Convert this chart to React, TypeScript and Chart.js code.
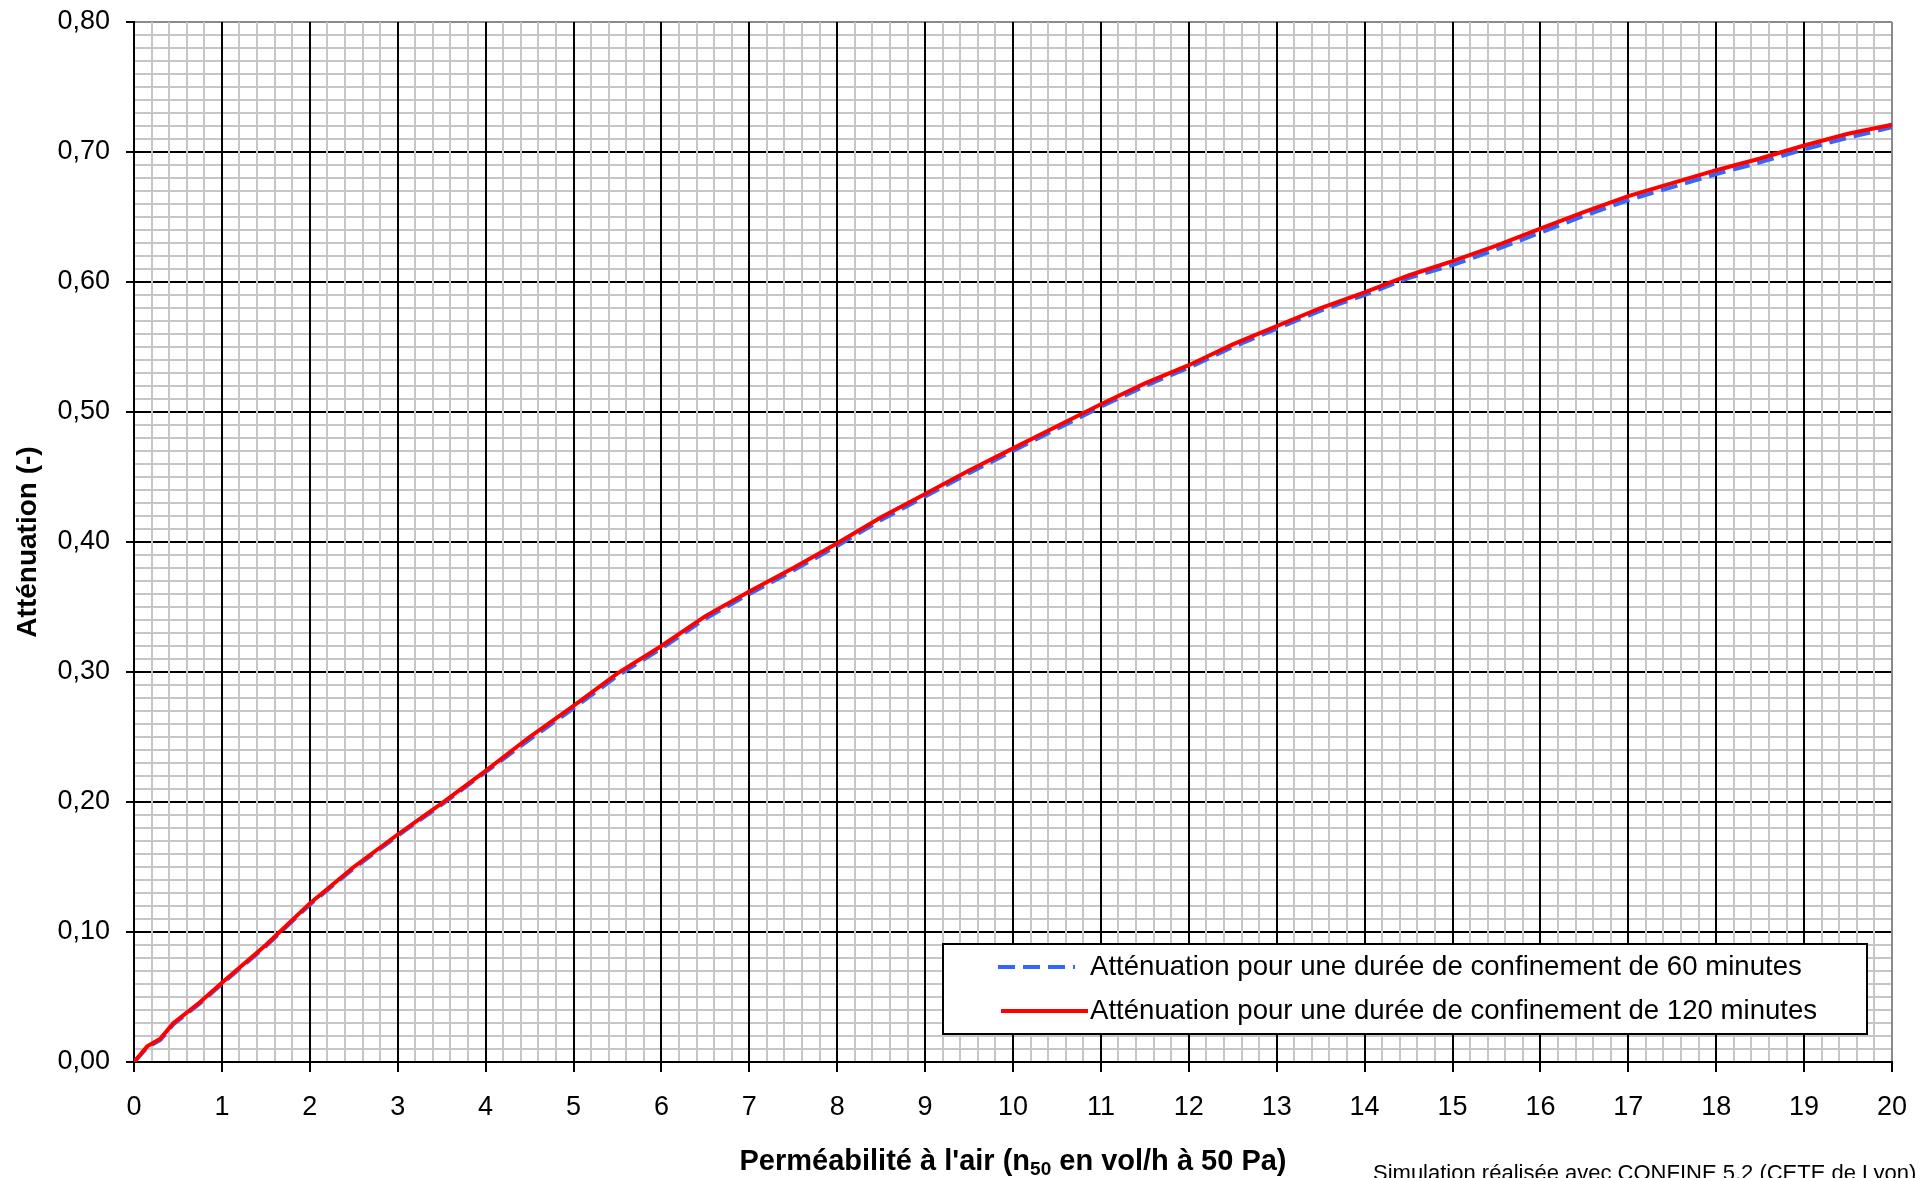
import React, { useEffect, useRef } from 'react';
import { Chart, registerables } from 'chart.js';

Chart.register(...registerables);

// ---- Data ----
const permeability = [
  0, 0.15, 0.3, 0.45, 0.75, 1, 1.5, 2, 2.5, 3, 3.5, 4, 4.5, 5, 5.5, 6, 6.5, 7, 7.5, 8, 8.5, 9, 9.5, 10,
  10.5, 11, 11.5, 12, 12.5, 13, 13.5, 14, 14.5, 15, 15.5, 16, 16.5, 17, 17.5, 18, 18.5, 19, 19.5, 20,
];
const attenuation60 = [
  0, 0.011, 0.017, 0.029, 0.045, 0.06, 0.089, 0.121, 0.149, 0.174, 0.198, 0.223, 0.248, 0.272, 0.297, 0.318,
  0.341, 0.36, 0.378, 0.397, 0.417, 0.435, 0.453, 0.47, 0.487, 0.504, 0.52, 0.534, 0.55, 0.564, 0.578, 0.59,
  0.603, 0.613, 0.625, 0.638, 0.651, 0.663, 0.673, 0.683, 0.692, 0.702, 0.711, 0.719,
];
const attenuation120 = [
  0, 0.012, 0.018, 0.03, 0.046, 0.061, 0.09, 0.122, 0.15, 0.175, 0.199, 0.224, 0.25, 0.274, 0.299, 0.32,
  0.343, 0.362, 0.38, 0.399, 0.419, 0.437, 0.455, 0.472, 0.489, 0.506, 0.522, 0.536, 0.552, 0.566, 0.58, 0.592,
  0.605, 0.616, 0.628, 0.641, 0.654, 0.666, 0.676, 0.686, 0.695, 0.705, 0.714, 0.721,
];
const seriesLabels = [
  'Atténuation pour une durée de confinement de 60 minutes',
  'Atténuation pour une durée de confinement de 120 minutes',
];
const yTickLabels = ['0,00', '0,10', '0,20', '0,30', '0,40', '0,50', '0,60', '0,70', '0,80'];
const xTickLabels = ['0', '1', '2', '3', '4', '5', '6', '7', '8', '9', '10', '11', '12', '13', '14', '15', '16', '17', '18', '19', '20'];
const yTitle = 'Atténuation (-)';
const xTitleParts = ["Perméabilité à l'air (n", '50', ' en vol/h à 50 Pa)'];
const footnote = 'Simulation réalisée avec CONFINE 5.2 (CETE de Lyon)';

const FONT = "'Liberation Sans', Arial, sans-serif";
const W = 1919;
const H = 1178;
const BLUE = '#3366ff';
const RED = '#ff0000';
const MINOR = '#c6c6c6';
const AREA = { left: 134, top: 22, right: 1892, bottom: 1062 };

const decorPlugin = {
  id: 'decor',
  afterDraw(chart: any) {
    const ctx = chart.ctx as CanvasRenderingContext2D;
    const ca = chart.chartArea;
    ctx.save();
    ctx.fillStyle = '#000';

    // Y title
    ctx.save();
    ctx.font = `bold 28px ${FONT}`;
    ctx.textAlign = 'center';
    ctx.textBaseline = 'middle';
    ctx.translate(28, (ca.top + ca.bottom) / 2);
    ctx.rotate(-Math.PI / 2);
    ctx.fillText(yTitle, 0, 0);
    ctx.restore();

    // X title with subscript
    const big = `bold 29px ${FONT}`;
    const small = `bold 19px ${FONT}`;
    ctx.textBaseline = 'alphabetic';
    ctx.textAlign = 'left';
    ctx.font = big;
    const w1 = ctx.measureText(xTitleParts[0]).width;
    const w3 = ctx.measureText(xTitleParts[2]).width;
    ctx.font = small;
    const w2 = ctx.measureText(xTitleParts[1]).width;
    const total = w1 + w2 + w3;
    let x = (ca.left + ca.right) / 2 - total / 2;
    const baseY = 1170;
    ctx.font = big;
    ctx.fillText(xTitleParts[0], x, baseY);
    x += w1;
    ctx.font = small;
    ctx.fillText(xTitleParts[1], x, baseY + 5);
    x += w2;
    ctx.font = big;
    ctx.fillText(xTitleParts[2], x, baseY);

    // Footnote
    ctx.font = `22px ${FONT}`;
    ctx.fillText(footnote, 1373, 1180);

    // Legend
    const bx = 943, by = 944, bw = 924, bh = 90;
    ctx.fillStyle = '#fff';
    ctx.fillRect(bx, by, bw, bh);
    ctx.strokeStyle = '#000';
    ctx.lineWidth = 2;
    ctx.strokeRect(bx, by, bw, bh);

    const ds = chart.data.datasets;
    const rows = [967, 1011];
    ctx.lineWidth = 4;
    ctx.strokeStyle = ds[0].borderColor;
    ctx.setLineDash([17, 8]);
    ctx.beginPath();
    ctx.moveTo(998, rows[0]);
    ctx.lineTo(1075, rows[0]);
    ctx.stroke();
    ctx.setLineDash([]);
    ctx.strokeStyle = ds[1].borderColor;
    ctx.beginPath();
    ctx.moveTo(1001, rows[1]);
    ctx.lineTo(1088, rows[1]);
    ctx.stroke();

    ctx.fillStyle = '#000';
    ctx.font = `27.6px ${FONT}`;
    ctx.textBaseline = 'middle';
    ctx.fillText(ds[0].label, 1090, rows[0]);
    ctx.fillText(ds[1].label, 1090, rows[1]);
    ctx.restore();
  },
};

export default function App() {
  const ref = useRef<HTMLCanvasElement | null>(null);

  useEffect(() => {
    const canvas = ref.current;
    if (!canvas) return;
    const chart = new Chart(canvas, {
      type: 'line',
      data: {
        datasets: [
          {
            label: seriesLabels[0],
            data: permeability.map((x, i) => ({ x, y: attenuation60[i] })),
            borderColor: BLUE,
            backgroundColor: BLUE,
            borderWidth: 4,
            borderDash: [17, 8],
            pointRadius: 0,
            tension: 0,
            fill: false,
            order: 1,
          },
          {
            label: seriesLabels[1],
            data: permeability.map((x, i) => ({ x, y: attenuation120[i] })),
            borderColor: RED,
            backgroundColor: RED,
            borderWidth: 4,
            pointRadius: 0,
            tension: 0,
            fill: false,
            order: 0,
          },
        ],
      },
      options: {
        animation: false,
        responsive: false,
        devicePixelRatio: 1,
        layout: { padding: { top: AREA.top, right: W - AREA.right, left: 0, bottom: 0 } },
        plugins: {
          legend: { display: false },
          tooltip: { enabled: false },
          title: { display: false },
        },
        scales: {
          y: {
            type: 'linear',
            min: 0,
            max: 0.8,
            afterFit: (s: any) => {
              s.width = AREA.left;
              s.paddingTop = 0;
              s.paddingBottom = 0;
            },
            grid: {
              z: -2,
              lineWidth: 2,
              color: (c: any) => (c.index % 10 === 0 ? (c.index === 80 ? '#8a8a8a' : '#000') : MINOR),
              tickLength: 8,
              tickWidth: 2,
              tickColor: (c: any) => (c.index % 10 === 0 ? '#000' : 'rgba(0,0,0,0)'),
            },
            border: { display: true, color: '#000', width: 2 },
            ticks: {
              stepSize: 0.01,
              autoSkip: false,
              padding: 16,
              color: '#000',
              font: { family: FONT, size: 27 },
              callback: (_v: any, i: number) => (i % 10 === 0 ? yTickLabels[i / 10] : ''),
            },
          },
          x: {
            type: 'linear',
            min: 0,
            max: 20,
            afterFit: (s: any) => {
              s.height = H - AREA.bottom;
              s.paddingLeft = 0;
              s.paddingRight = 0;
            },
            grid: {
              z: -1,
              lineWidth: 2,
              color: (c: any) => (c.index % 5 === 0 ? (c.index === 100 ? '#8a8a8a' : '#000') : MINOR),
              tickLength: 10,
              tickWidth: 2,
              tickColor: (c: any) => (c.index % 5 === 0 ? '#000' : 'rgba(0,0,0,0)'),
            },
            border: { display: true, color: '#000', width: 2 },
            ticks: {
              stepSize: 0.2,
              autoSkip: false,
              maxRotation: 0,
              minRotation: 0,
              padding: 19,
              color: '#000',
              font: { family: FONT, size: 27 },
              callback: (_v: any, i: number) => (i % 5 === 0 ? xTickLabels[i / 5] : ''),
            },
          },
        },
      },
      plugins: [decorPlugin],
    } as any);

    return () => chart.destroy();
  }, []);

  return (
    <div style={{ position: 'fixed', left: 0, top: 0, width: W, height: H, background: '#fff' }}>
      <canvas ref={ref} width={W} height={H} style={{ display: 'block', width: W, height: H }} />
    </div>
  );
}
